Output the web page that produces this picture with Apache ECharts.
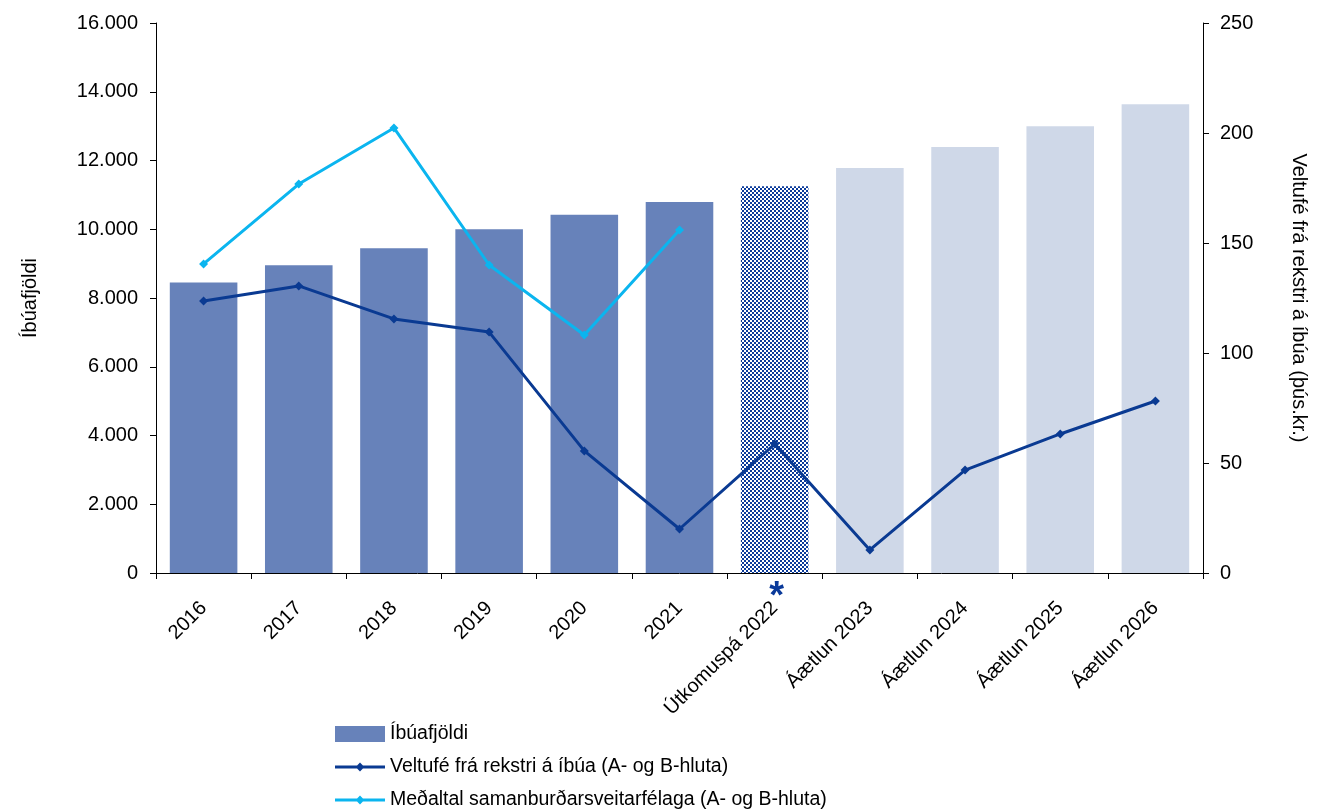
<!DOCTYPE html>
<html>
<head>
<meta charset="utf-8">
<style>
  html, body { margin: 0; padding: 0; background: #ffffff; }
  #chart { width: 1317px; height: 810px; }
</style>
<script src="https://cdn.jsdelivr.net/npm/echarts@6/dist/echarts.min.js"></script>
</head>
<body>
<div id="chart"></div>
<script>
// Categories along the x axis
const categories = ['2016', '2017', '2018', '2019', '2020', '2021', 'Útkomuspá 2022', 'Áætlun 2023', 'Áætlun 2024', 'Áætlun 2025', 'Áætlun 2026'];
// Population (left axis)
const ibuafjoldi = [8450, 8950, 9450, 10000, 10420, 10790, 11250, 11780, 12390, 13000, 13640];
// Cash from operations per inhabitant, thous. ISK (right axis)
const veltufe = [123.6, 130.5, 115.5, 109.5, 55.5, 20, 58.6, 10.5, 46.8, 63.2, 78.2];
// Average of comparison municipalities (right axis)
const medaltal = [140.5, 176.8, 202.3, 140, 108.2, 155.9, null, null, null, null, null];
// Left axis tick labels
const leftTicks = ['0', '2.000', '4.000', '6.000', '8.000', '10.000', '12.000', '14.000', '16.000'];

const FONT = 'Liberation Sans, Arial, sans-serif';
const TICK_SIZE = 20;
const BAR_ACTUAL = '#6782BA';
const BAR_PLAN = '#CFD8E8';
const DARK = '#0A3A92';
const LIGHT = '#0BB5EF';

// Legend icon for the line series: a 3px line with a small diamond in the
// middle; the two empty sub-paths pin the icon box to 50x16.
const LEGEND_LINE = 'path://M0,0L0,0ZM50,16L50,16ZM0,6.5L50,6.5L50,9.5L0,9.5ZM25,3.6L29.4,8L25,12.4L20.6,8Z';

// Checker pattern for the forecast bar
function makePattern() {
  const c = document.createElement('canvas');
  c.width = 4; c.height = 4;
  const g = c.getContext('2d');
  g.fillStyle = '#ffffff';
  g.fillRect(0, 0, 4, 4);
  g.fillStyle = '#0A3A9A';
  g.fillRect(0, 0, 2, 2);
  g.fillRect(2, 2, 2, 2);
  return c;
}
const pattern = makePattern();

function barStyle(i) {
  if (i < 6) return { color: BAR_ACTUAL };
  if (i === 6) return { color: { image: pattern, repeat: 'repeat' } };
  return { color: BAR_PLAN };
}

const chart = echarts.init(document.getElementById('chart'), null, { renderer: 'canvas' });

chart.setOption({
  animation: false,
  backgroundColor: '#ffffff',
  textStyle: { fontFamily: FONT },
  grid: { left: 156, right: 112, top: 23, bottom: 237, containLabel: false },
  legend: {
    orient: 'vertical',
    left: 335,
    top: 724,
    height: 100,
    padding: 0,
    itemWidth: 50,
    itemHeight: 16,
    itemGap: 13,
    textStyle: { fontFamily: FONT, fontSize: 19.5, lineHeight: 18, color: '#000000' },
    data: [
      { name: 'Íbúafjöldi', icon: 'rect', itemStyle: { color: BAR_ACTUAL } },
      { name: 'Veltufé frá rekstri á íbúa (A- og B-hluta)', icon: LEGEND_LINE },
      { name: 'Meðaltal samanburðarsveitarfélaga (A- og B-hluta)', icon: LEGEND_LINE }
    ]
  },
  xAxis: {
    type: 'category',
    data: categories,
    boundaryGap: true,
    axisLine: { lineStyle: { color: '#000000', width: 1 } },
    axisTick: { show: true, alignWithLabel: false, length: 6, lineStyle: { color: '#000000' } },
    axisLabel: {
      rotate: 45,
      interval: 0,
      fontFamily: FONT,
      fontSize: TICK_SIZE,
      color: '#000000',
      margin: 32
    }
  },
  yAxis: [
    {
      type: 'value',
      min: 0,
      max: 16000,
      interval: 2000,
      position: 'left',
      name: 'Íbúafjöldi',
      nameLocation: 'middle',
      nameGap: 116,
      nameTextStyle: { fontFamily: FONT, fontSize: TICK_SIZE, color: '#000000' },
      axisLine: { show: true, lineStyle: { color: '#000000' } },
      axisTick: { show: true, length: 6, lineStyle: { color: '#000000' } },
      splitLine: { show: false },
      axisLabel: {
        fontFamily: FONT,
        fontSize: TICK_SIZE,
        color: '#000000',
        margin: 18,
        formatter: function (v) { return leftTicks[Math.round(v / 2000)]; }
      }
    },
    {
      type: 'value',
      min: 0,
      max: 250,
      interval: 50,
      position: 'right',
      name: 'Veltufé frá rekstri á íbúa (þús.kr.)',
      nameLocation: 'middle',
      nameRotate: -90,
      nameGap: 86,
      nameTextStyle: { fontFamily: FONT, fontSize: TICK_SIZE, color: '#000000' },
      axisLine: { show: true, lineStyle: { color: '#000000' } },
      axisTick: { show: true, length: 6, lineStyle: { color: '#000000' } },
      splitLine: { show: false },
      axisLabel: { fontFamily: FONT, fontSize: TICK_SIZE, color: '#000000', margin: 17 }
    }
  ],
  series: [
    {
      name: 'Íbúafjöldi',
      type: 'bar',
      yAxisIndex: 0,
      barCategoryGap: '29%',
      itemStyle: { color: BAR_ACTUAL },
      data: ibuafjoldi.map(function (v, i) { return { value: v, itemStyle: barStyle(i) }; }),
      markPoint: {
        symbol: 'circle',
        symbolSize: 0,
        silent: true,
        label: {
          show: true,
          formatter: '*',
          color: '#0A3A9A',
          fontFamily: FONT,
          fontWeight: 'bold',
          fontSize: 38,
          offset: [2, 25]
        },
        data: [{ coord: [categories[6], 0] }]
      }
    },
    {
      name: 'Veltufé frá rekstri á íbúa (A- og B-hluta)',
      type: 'line',
      yAxisIndex: 1,
      data: veltufe,
      symbol: 'diamond',
      symbolSize: 9,
      itemStyle: { color: DARK },
      lineStyle: { color: DARK, width: 3 },
      z: 3
    },
    {
      name: 'Meðaltal samanburðarsveitarfélaga (A- og B-hluta)',
      type: 'line',
      yAxisIndex: 1,
      data: medaltal,
      symbol: 'diamond',
      symbolSize: 9,
      itemStyle: { color: LIGHT },
      lineStyle: { color: LIGHT, width: 3 },
      z: 4
    }
  ]
});
</script>
</body>
</html>
